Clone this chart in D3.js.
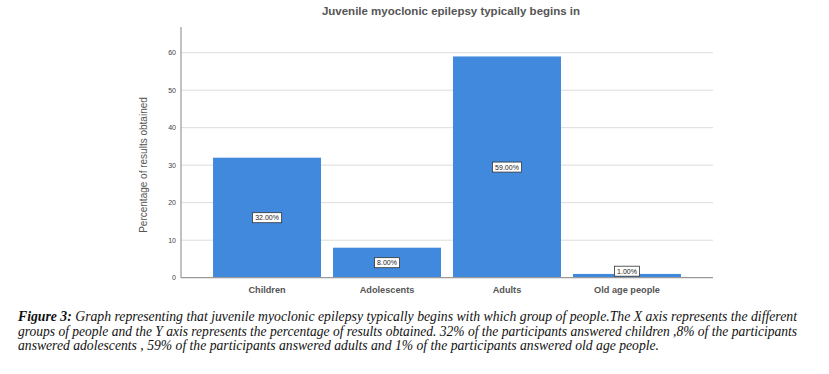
<!DOCTYPE html>
<html><head><meta charset="utf-8">
<script src="https://cdn.jsdelivr.net/npm/d3@7/dist/d3.min.js"></script>
<style>body{margin:0;background:#fff}svg{display:block}</style>
</head><body>
<script>
const categories = ["Children", "Adolescents", "Adults", "Old age people"];
const values = [32, 8, 59, 1];
const valueLabels = ["32.00%", "8.00%", "59.00%", "1.00%"];
const yTicks = [0, 10, 20, 30, 40, 50, 60];
const title = "Juvenile myoclonic epilepsy typically begins in";
const yTitle = "Percentage of results obtained";
const captionLines = [
  ["Figure 3:", " Graph representing that juvenile myoclonic epilepsy typically begins with which group of people.The X axis represents the different"],
  ["", "groups of people and the Y axis represents the percentage of results obtained. 32% of the participants answered children ,8% of the participants"],
  ["", "answered adolescents , 59% of the participants answered adults and 1% of the participants answered old age people."]
];

const W = 829, H = 374;
const svg = d3.select("body").append("svg").attr("width", W).attr("height", H);

const x0 = 181, x1 = 713, yBottom = 277.7, yTop = 27;
const x = d3.scaleBand().domain(categories).range([x0, x1]).paddingInner(0.1).paddingOuter(0.267);
const y = d3.scaleLinear().domain([0, 60]).range([yBottom, 52.7]);

// gridlines
svg.append("g").selectAll("line").data(yTicks.filter(d => d > 0)).join("line")
  .attr("x1", x0).attr("x2", x1).attr("y1", d => y(d)).attr("y2", d => y(d))
  .attr("stroke", "#dcdcdc").attr("stroke-width", 1);

// bars
svg.append("g").selectAll("rect").data(values).join("rect")
  .attr("x", (d, i) => x(categories[i]))
  .attr("width", x.bandwidth())
  .attr("y", d => y(d))
  .attr("height", d => yBottom - y(d))
  .attr("fill", "#4189dd");

// y axis
const yAxis = svg.append("g").attr("transform", `translate(${x0},0)`)
  .call(d3.axisLeft(y).tickValues(yTicks).tickSize(0).tickPadding(5));
yAxis.select(".domain").remove();
yAxis.selectAll("text").attr("font-family", "Liberation Sans, Arial, sans-serif").attr("font-size", 7).attr("fill", "#444");
svg.append("line").attr("x1", x0).attr("x2", x0).attr("y1", yTop).attr("y2", yBottom).attr("stroke", "#999").attr("stroke-width", 1.2);

// x axis
const xAxis = svg.append("g").attr("transform", `translate(0,${yBottom})`)
  .call(d3.axisBottom(x).tickSize(0).tickPadding(9));
xAxis.select(".domain").remove();
xAxis.selectAll("text").attr("font-family", "Liberation Sans, Arial, sans-serif").attr("font-size", 9.2)
  .attr("font-weight", "bold").attr("fill", "#555");
svg.append("line").attr("x1", x0).attr("x2", x1).attr("y1", yBottom).attr("y2", yBottom).attr("stroke", "#999").attr("stroke-width", 1.2);

// value labels
const lab = svg.append("g").selectAll("g").data(values).join("g")
  .attr("transform", (d, i) => {
    const cx = x(categories[i]) + x.bandwidth() / 2;
    const cy = Math.min(y(d / 2), yBottom - 6.5);
    return `translate(${cx},${cy})`;
  });
lab.append("rect").attr("x", (d, i) => -(valueLabels[i].length * 2.1 + 2)).attr("y", -5)
  .attr("width", (d, i) => 2 * (valueLabels[i].length * 2.1 + 2)).attr("height", 10)
  .attr("fill", "#fff").attr("stroke", "#333").attr("stroke-width", 0.8);
lab.append("text").text((d, i) => valueLabels[i]).attr("text-anchor", "middle").attr("dy", "0.35em")
  .attr("font-family", "Liberation Sans, Arial, sans-serif").attr("font-size", 7).attr("fill", "#222");

// title
svg.append("text").attr("x", 451).attr("y", 15).attr("text-anchor", "middle")
  .attr("font-family", "Liberation Sans, Arial, sans-serif").attr("font-size", 11.5).attr("font-weight", "bold")
  .attr("fill", "#555").text(title);

// y title
svg.append("text").attr("transform", "translate(147,165) rotate(-90)").attr("text-anchor", "middle")
  .attr("font-family", "Liberation Sans, Arial, sans-serif").attr("font-size", 10).attr("fill", "#555").text(yTitle);

// caption
const capY = [320.5, 335.5, 350];
const capLen = [779, 779, 641];
captionLines.forEach((ln, i) => {
  const t = svg.append("text").attr("x", 18).attr("y", capY[i])
    .attr("font-family", "Liberation Serif, Times New Roman, serif").attr("font-style", "italic")
    .attr("font-size", 14).attr("fill", "#111")
    .attr("textLength", capLen[i]).attr("lengthAdjust", "spacingAndGlyphs");
  if (ln[0]) t.append("tspan").attr("font-weight", "bold").text(ln[0]);
  t.append("tspan").text(ln[1]);
});
</script>
</body></html>
